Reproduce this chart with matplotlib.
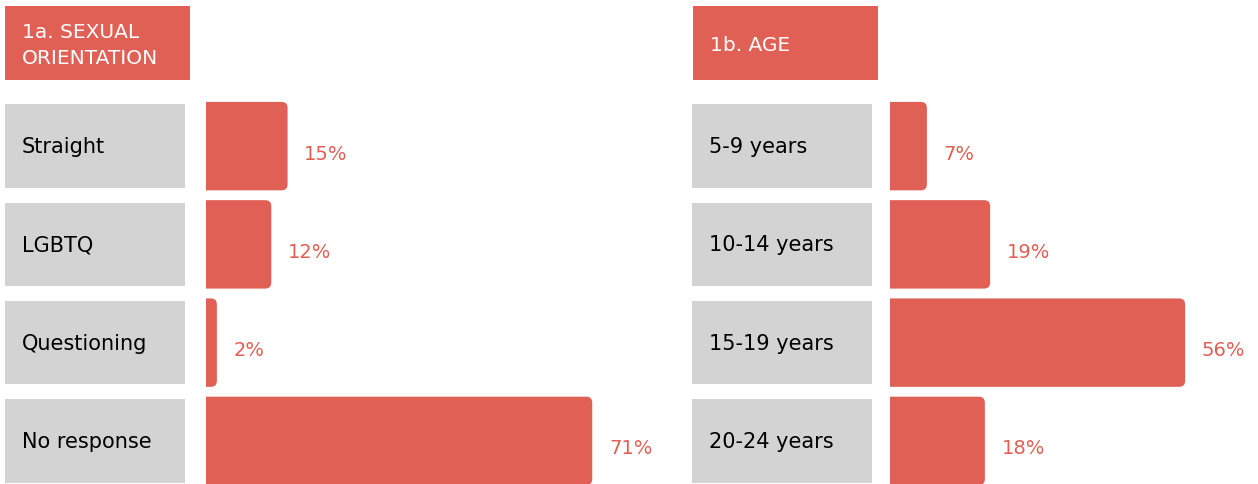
import matplotlib.pyplot as plt
from matplotlib.patches import FancyBboxPatch, Rectangle

# Data
orientation_labels = ["Straight", "LGBTQ", "Questioning", "No response"]
orientation_pct = [15, 12, 2, 71]
age_labels = ["5-9 years", "10-14 years", "15-19 years", "20-24 years"]
age_pct = [7, 19, 56, 18]

RED = "#E16055"
GREY = "#D3D3D3"
W, H = 1258, 485

plt.rcParams["font.family"] = ["DejaVu Sans"]

fig = plt.figure(figsize=(W / 100, H / 100), dpi=100)


def add_px_axes(x0, y0, x1, y1):
    # axes placed by pixel box (top-left origin)
    ax = fig.add_axes([x0 / W, 1 - y1 / H, (x1 - x0) / W, (y1 - y0) / H])
    ax.set_axis_off()
    return ax


def draw_panel(title, labels, values, hx, lx, bx, px_per_pct):
    n = len(labels)
    rows = list(range(n))

    # header box
    hax = add_px_axes(hx, 7, hx + 185, 81)
    hax.add_patch(Rectangle((0, 0), 1, 1, transform=hax.transAxes, color=RED))
    hax.text(0.092, 0.48, title, color="white", fontsize=14.5,
             va="center", ha="left", linespacing=1.45)

    # grey label boxes
    lax = add_px_axes(lx, 98, lx + 180, 491)
    lax.barh(rows, [1] * n, height=0.85, color=GREY)
    lax.set_xlim(0, 1)
    lax.set_ylim(n - 0.5, -0.5)
    for i, lab in enumerate(labels):
        lax.text(0.094, i, lab, fontsize=15, color="black", va="center", ha="left")

    # bars: rounded right corners, left corners pushed past the axis edge and clipped
    right = W if bx > W / 2 else 680
    bax = add_px_axes(bx, 98, right, 491)
    bax.set_xlim(0, (right - bx) / px_per_pct)
    bax.set_ylim(n - 0.5, -0.5)
    bars = bax.barh(rows, values, height=0.9, color=RED)
    row_px = (491 - 98) / n
    aspect = (1 / row_px) / (1 / px_per_pct)
    r = 6 / px_per_pct
    for b in bars:
        x, y, w, h = b.get_x(), b.get_y(), b.get_width(), b.get_height()
        b.set_visible(False)
        bax.add_patch(FancyBboxPatch((x - 2 * r, y), w + 2 * r, h,
                                     boxstyle=f"round,pad=0,rounding_size={r}",
                                     mutation_aspect=aspect,
                                     facecolor=RED, edgecolor="none"))

    for i, v in enumerate(values):
        bax.annotate(f"{v}%", xy=(v, i), xytext=(12, -5), textcoords="offset points",
                     color=RED, fontsize=14, va="center", ha="left")


draw_panel("1a. SEXUAL\nORIENTATION", orientation_labels, orientation_pct,
           hx=5, lx=5, bx=206, px_per_pct=5.44)
draw_panel("1b. AGE", age_labels, age_pct,
           hx=693, lx=692, bx=890, px_per_pct=5.27)

fig.savefig("out.png", dpi=100)
